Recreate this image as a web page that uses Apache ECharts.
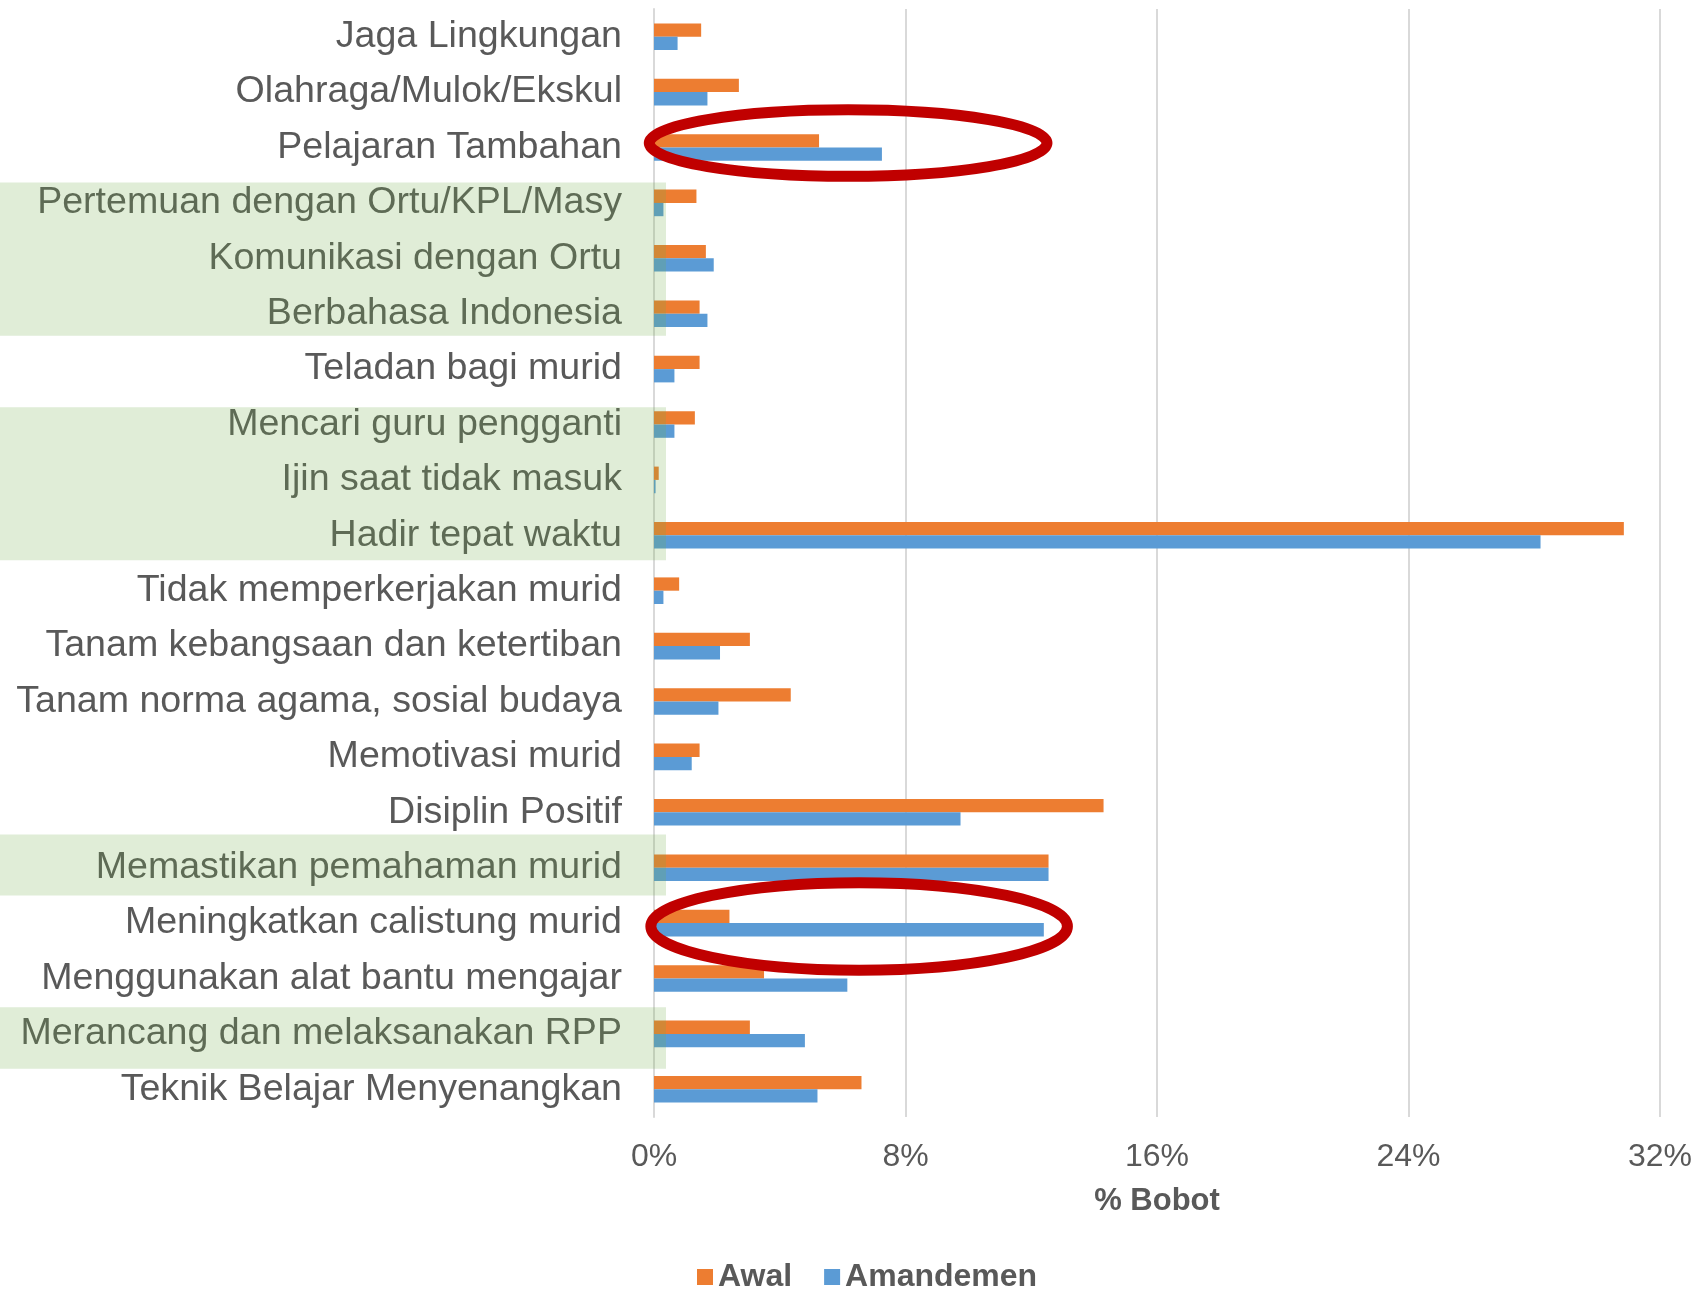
<!DOCTYPE html>
<html>
<head>
<meta charset="utf-8">
<title>% Bobot</title>
<script src="https://cdn.jsdelivr.net/npm/echarts@6/dist/echarts.min.js"></script>
<style>
    html, body { margin: 0; padding: 0; background: #fff; }
    #chart { width: 1703px; height: 1290px; }
</style>
</head>
<body>
<div id="chart"></div>
<script>
// 类别 (从上到下)
const categories = [
    'Jaga Lingkungan', 'Olahraga/Mulok/Ekskul', 'Pelajaran Tambahan',
    'Pertemuan dengan Ortu/KPL/Masy', 'Komunikasi dengan Ortu', 'Berbahasa Indonesia',
    'Teladan bagi murid', 'Mencari guru pengganti', 'Ijin saat tidak masuk',
    'Hadir tepat waktu', 'Tidak memperkerjakan murid', 'Tanam kebangsaan dan ketertiban',
    'Tanam norma agama, sosial budaya', 'Memotivasi murid', 'Disiplin Positif',
    'Memastikan pemahaman murid', 'Meningkatkan calistung murid',
    'Menggunakan alat bantu mengajar', 'Merancang dan melaksanakan RPP',
    'Teknik Belajar Menyenangkan'
];
// 数据 (%)
const awal      = [1.5, 2.7, 5.25, 1.35, 1.65, 1.45, 1.45, 1.3, 0.15, 30.85, 0.8, 3.05, 4.35, 1.45, 14.3, 12.55, 2.4, 3.5, 3.05, 6.6];
const amandemen = [0.75, 1.7, 7.25, 0.3, 1.9, 1.7, 0.65, 0.65, 0.05, 28.2, 0.3, 2.1, 2.05, 1.2, 9.75, 12.55, 12.4, 6.15, 4.8, 5.2];
const xTicks    = [0, 8, 16, 24, 32];

// 绿色高亮行: 起, 止, 上缩进(带宽), 下缩进(带宽)
const highlightRows = [
    ['Pertemuan dengan Ortu/KPL/Masy', 'Berbahasa Indonesia', 0.13, 0.1],
    ['Mencari guru pengganti', 'Hadir tepat waktu', 0.19, 0.05],
    ['Memastikan pemahaman murid', 'Memastikan pemahaman murid', -0.1, 0],
    ['Merancang dan melaksanakan RPP', 'Merancang dan melaksanakan RPP', 0.02, -0.13]
];
// 红色圈: 行, 左值, 右值, 垂直偏移(带宽), 半高(带宽)
const circles = [
    ['Pelajaran Tambahan', -0.15, 12.5, -0.08, 0.6],
    ['Meningkatkan calistung murid', -0.1, 13.15, 0.06, 0.79]
];

const grey = '#595959';
const font = '"Liberation Sans", Arial, sans-serif';

let chart = echarts.init(document.getElementById('chart'));
let option = {
    backgroundColor: '#fff',
    animation: false,
    textStyle: { fontFamily: font },
    grid: { left: 654, right: 43, top: 9, bottom: 173, containLabel: false },
    legend: {
        data: ['Awal', 'Amandemen'],
        left: 692,
        top: 1256,
        icon: 'rect',
        itemWidth: 16,
        itemHeight: 16,
        itemGap: 32,
        textStyle: { color: grey, fontSize: 32, fontWeight: 'bold', fontFamily: font }
    },
    xAxis: {
        type: 'value',
        min: xTicks[0],
        max: xTicks[xTicks.length - 1],
        interval: xTicks[1] - xTicks[0],
        name: '% Bobot',
        nameLocation: 'middle',
        nameGap: 69,
        nameTextStyle: { color: grey, fontSize: 31, fontWeight: 'bold', fontFamily: font },
        axisLine: { show: false },
        axisTick: { show: false },
        axisLabel: { color: grey, fontSize: 32, margin: 24, formatter: '{value}%', fontFamily: font },
        splitLine: { lineStyle: { color: '#d9d9d9', width: 2 } }
    },
    yAxis: {
        type: 'category',
        inverse: true,
        data: categories,
        axisLine: { show: true, lineStyle: { color: '#d9d9d9', width: 2 } },
        axisTick: { show: false },
        axisLabel: { color: grey, fontSize: 37.6, margin: 32, padding: [6, 0, 0, 0], fontFamily: font }
    },
    series: [
        {
            name: 'Awal',
            type: 'bar',
            data: awal,
            barGap: '0%',
            barCategoryGap: '52%',
            itemStyle: { color: '#ED7D31' }
        },
        {
            name: 'Amandemen',
            type: 'bar',
            data: amandemen,
            barGap: '0%',
            barCategoryGap: '52%',
            itemStyle: { color: '#5B9BD5' }
        }
    ]
};
chart.setOption(option);

// 高亮区 + 红圈 (用坐标轴换算位置)
{
    let yOf = name => chart.convertToPixel({ yAxisIndex: 0 }, name);
    let xOf = v => chart.convertToPixel({ xAxisIndex: 0 }, v);
    let band = yOf(categories[1]) - yOf(categories[0]);
    let x0 = xOf(0);
    let graphics = [];

    highlightRows.forEach(([from, to, padTop, padBottom]) => {
        let top = yOf(from) - band / 2 + padTop * band;
        let bottom = yOf(to) + band / 2 - padBottom * band;
        graphics.push({
            type: 'rect',
            z: 100,
            silent: true,
            shape: { x: 0, y: top, width: x0 + 12, height: bottom - top },
            style: { fill: 'rgba(112,173,71,0.22)' }
        });
    });

    circles.forEach(([row, v1, v2, dy, ry]) => {
        let left = xOf(v1), right = xOf(v2);
        graphics.push({
            type: 'ellipse',
            z: 110,
            silent: true,
            shape: { cx: (left + right) / 2, cy: yOf(row) + dy * band, rx: (right - left) / 2, ry: ry * band },
            style: { fill: 'none', stroke: '#C00000', lineWidth: 11 }
        });
    });

    chart.setOption({ graphic: graphics });
}
</script>
</body>
</html>
